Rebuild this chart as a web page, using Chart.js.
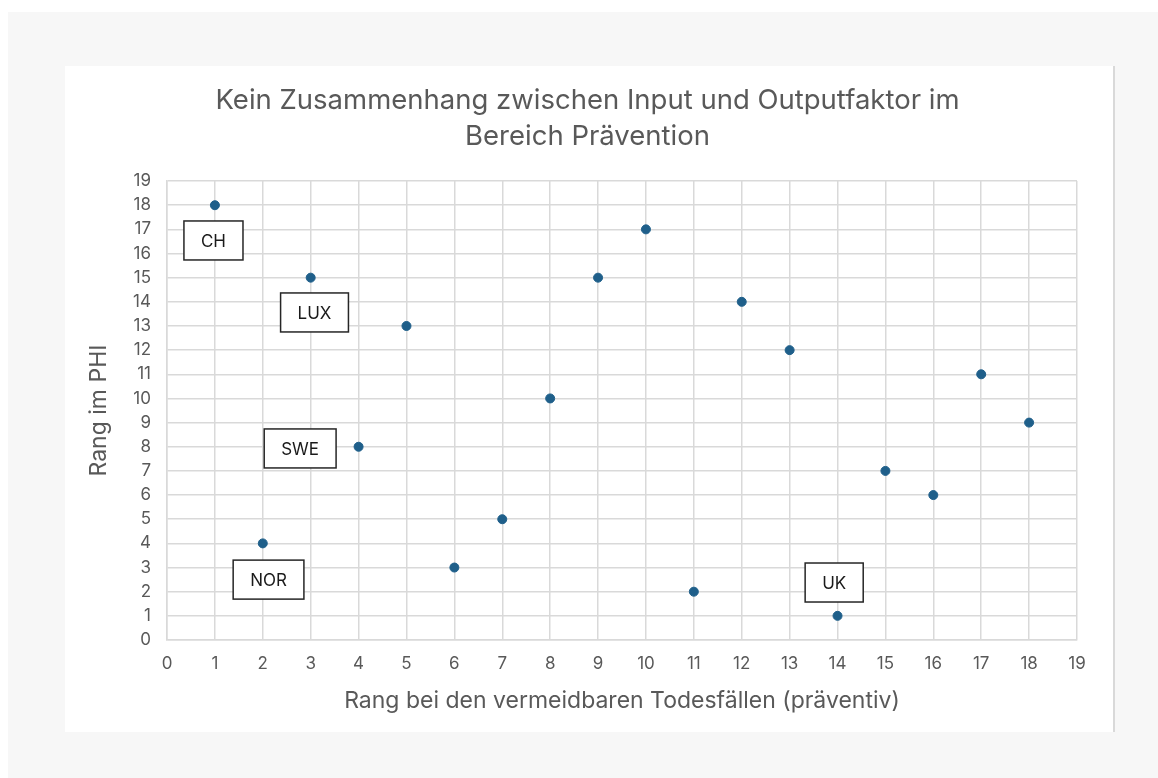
<!DOCTYPE html>
<html>
<head>
<meta charset="utf-8">
<script src="https://cdn.jsdelivr.net/npm/chart.js@4.4.1/dist/chart.umd.min.js"></script>
<style>
  html, body { margin: 0; padding: 0; background: #fff; }
  #outer { position: absolute; left: 8px; top: 12px; right: 0; bottom: 0; background: #f7f7f7; }
  #card { position: absolute; left: 57px; top: 54px; width: 1048px; height: 666px; background: #fff; border-right: 2px solid #d9d9d9; }
  canvas { display: block; }
</style>
</head>
<body>
<div id="outer">
  <div id="card"><canvas id="scatterChart" width="1048" height="666"></canvas></div>
</div>
<script>
const rankPrevent = [1, 2, 3, 4, 5, 6, 7, 8, 9, 10, 11, 12, 13, 14, 15, 16, 17, 18];
const rankPHI = [18, 4, 15, 8, 13, 3, 5, 10, 15, 17, 2, 14, 12, 1, 7, 6, 11, 9];

const labelTexts = ["CH", "LUX", "SWE", "NOR", "UK"];
const labelX = [0.97, 3.08, 2.78, 2.12, 13.93];
const labelY = [16.54, 13.56, 7.93, 2.5, 2.38];

const textColor = "#595959";
const gridColor = "#d9d9d9";
const fontFamily = "Inter, 'Open Sans', sans-serif";

const labelBoxes = {
  id: "labelBoxes",
  afterDatasetsDraw(chart) {
    const { ctx, scales } = chart;
    ctx.save();
    ctx.font = "17px " + fontFamily;
    ctx.textAlign = "center";
    ctx.textBaseline = "middle";
    labelTexts.forEach((t, i) => {
      const cx = scales.x.getPixelForValue(labelX[i]);
      const cy = scales.y.getPixelForValue(labelY[i]);
      const w = ctx.measureText(t).width + 34;
      const h = 39;
      ctx.fillStyle = "#fff";
      ctx.fillRect(cx - w / 2, cy - h / 2, w, h);
      ctx.strokeStyle = "#262626";
      ctx.lineWidth = 1.5;
      ctx.strokeRect(cx - w / 2, cy - h / 2, w, h);
      ctx.fillStyle = "#1a1a1a";
      ctx.fillText(t, cx, cy + 1);
    });
    ctx.restore();
  },
};

const ctx1 = document.getElementById("scatterChart").getContext("2d");
new Chart(ctx1, {
  type: "scatter",
  data: {
    datasets: [
      {
        data: rankPrevent.map((x, i) => ({ x: x, y: rankPHI[i] })),
        backgroundColor: "#1f5f8a",
        borderColor: "#1f5f8a",
        pointRadius: 4.5,
      },
    ],
  },
  options: {
    responsive: false,
    animation: false,
    layout: { padding: { top: 17, left: 33, right: 36, bottom: 10 } },
    plugins: {
      legend: { display: false },
      tooltip: { enabled: false },
      title: {
        display: true,
        text: ["Kein Zusammenhang zwischen Input und Outputfaktor im", "Bereich Prävention"],
        color: textColor,
        font: { size: 27.5, family: fontFamily, weight: "normal", lineHeight: 1.31 },
        padding: { top: 0, bottom: 26 },
      },
    },
    scales: {
      x: {
        type: "linear",
        min: 0,
        max: 19,
        afterFit: (s) => { s.height = 82; },
        ticks: { stepSize: 1, color: textColor, font: { size: 17, family: fontFamily }, padding: 14 },
        grid: { color: gridColor, lineWidth: 1.5, drawTicks: false },
        border: { color: gridColor, width: 1.5 },
        title: {
          display: true,
          text: "Rang bei den vermeidbaren Todesfällen (präventiv)",
          color: textColor,
          font: { size: 23, family: fontFamily },
          padding: { top: 4, bottom: 7 },
        },
      },
      y: {
        type: "linear",
        min: 0,
        max: 19,
        afterFit: (s) => { s.width = 69; },
        ticks: { stepSize: 1, color: textColor, font: { size: 17, family: fontFamily }, padding: 16 },
        grid: { color: gridColor, lineWidth: 1.5, drawTicks: false },
        border: { color: gridColor, width: 1.5 },
        title: {
          display: true,
          text: "Rang im PHI",
          color: textColor,
          font: { size: 23, family: fontFamily },
          padding: { top: -13, bottom: 0 },
        },
      },
    },
  },
  plugins: [labelBoxes],
});
</script>
</body>
</html>
